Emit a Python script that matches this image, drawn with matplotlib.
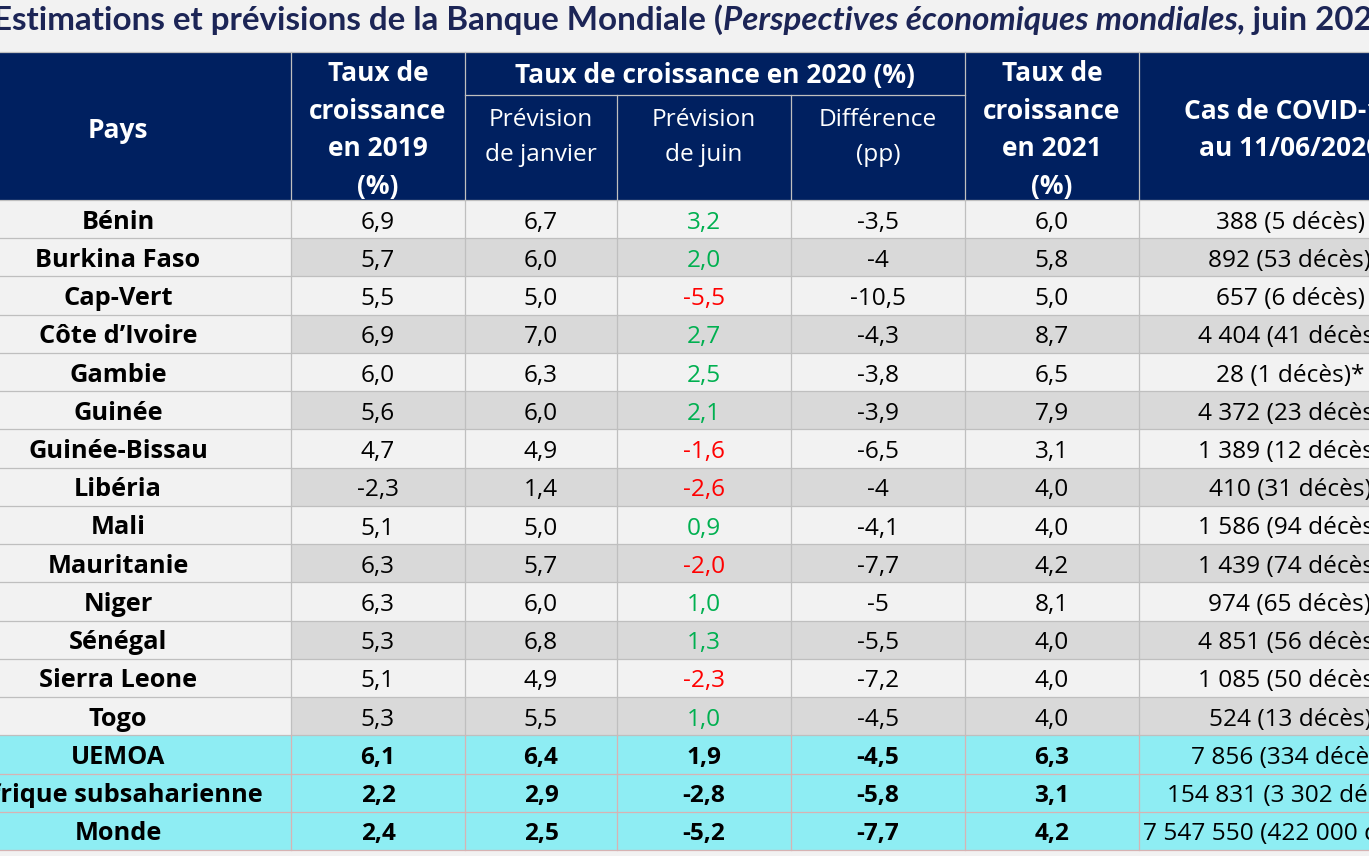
import matplotlib
matplotlib.use("Agg")
import matplotlib.pyplot as plt
from matplotlib.patches import Rectangle

# ---------------- data ----------------
countries = ["Bénin", "Burkina Faso", "Cap-Vert", "Côte d’Ivoire", "Gambie", "Guinée",
             "Guinée-Bissau", "Libéria", "Mali", "Mauritanie", "Niger", "Sénégal",
             "Sierra Leone", "Togo", "UEMOA", "Afrique subsaharienne", "Monde"]
growth_2019 = [6.9, 5.7, 5.5, 6.9, 6.0, 5.6, 4.7, -2.3, 5.1, 6.3, 6.3, 5.3, 5.1, 5.3, 6.1, 2.2, 2.4]
forecast_jan_2020 = [6.7, 6.0, 5.0, 7.0, 6.3, 6.0, 4.9, 1.4, 5.0, 5.7, 6.0, 6.8, 4.9, 5.5, 6.4, 2.9, 2.5]
forecast_jun_2020 = [3.2, 2.0, -5.5, 2.7, 2.5, 2.1, -1.6, -2.6, 0.9, -2.0, 1.0, 1.3, -2.3, 1.0, 1.9, -2.8, -5.2]
difference_pp = [-3.5, -4, -10.5, -4.3, -3.8, -3.9, -6.5, -4, -4.1, -7.7, -5, -5.5, -7.2, -4.5, -4.5, -5.8, -7.7]
growth_2021 = [6.0, 5.8, 5.0, 8.7, 6.5, 7.9, 3.1, 4.0, 4.0, 4.2, 8.1, 4.0, 4.0, 4.0, 6.3, 3.1, 4.2]
covid_cases = ["388 (5 décès)", "892 (53 décès)", "657 (6 décès)", "4 404 (41 décès)",
               "28 (1 décès)*", "4 372 (23 décès)", "1 389 (12 décès)", "410 (31 décès)",
               "1 586 (94 décès)", "1 439 (74 décès)", "974 (65 décès)", "4 851 (56 décès)",
               "1 085 (50 décès)", "524 (13 décès)", "7 856 (334 décès)",
               "154 831 (3 302 décès)", "7 547 550 (422 000 décès)"]
n_summary = 3  # last rows: UEMOA, Afrique subsaharienne, Monde

title_parts = ["Estimations et prévisions de la Banque Mondiale (",
               "Perspectives économiques mondiales",
               ", juin 2020)"]
header_pays = "Pays"
header_2019 = "Taux de\ncroissance\nen 2019\n(%)"
header_2020 = "Taux de croissance en 2020 (%)"
sub_headers = ["Prévision\nde janvier", "Prévision\nde juin", "Différence\n(pp)"]
header_2021 = "Taux de\ncroissance\nen 2021\n(%)"
header_covid = "Cas de COVID-19\nau 11/06/2020"

# ---------------- style / layout ----------------
W, H = 1369, 856
BG = "#f2f2f2"
NAVY = "#002060"
GREY = "#d9d9d9"
CYAN = "#8eedf3"
LINE = "#bfbfbf"
PINK = "#d7b3b3"
GREEN = "#00b050"
RED = "#ff0000"
TITLE_C = "#1c2556"
FONT = "Open Sans"
FS = 17.6        # regular body text
FS_B = 18.3      # bold body text (country names)
FS_H = 19.0      # bold header text

col_edges = [-55, 291, 465, 617, 791, 965, 1139, 1441]
head_top, head_mid, head_bot = 52, 95, 200
body_bot = 850
nrows = len(countries)
rh = (body_bot - head_bot) / nrows

fig = plt.figure(figsize=(W / 100, H / 100), dpi=100, facecolor=BG)
ax = fig.add_axes([0, 0, 1, 1])
ax.set_xlim(0, W)
ax.set_ylim(H, 0)
ax.axis("off")
ax.set_facecolor(BG)

lw = 0.9

# ---- title ----
renderer = fig.canvas.get_renderer()
styles = ["normal", "italic", "normal"]
tfs = 23.9
texts = []
for part, st in zip(title_parts, styles):
    t = ax.text(0, 20, part, fontsize=tfs, fontweight="bold", style=st, family="Lato",
                color=TITLE_C, ha="left", va="center")
    texts.append(t)
widths = [t.get_window_extent(renderer).width for t in texts]
total = sum(widths)
x = 697 - total / 2
for t, w in zip(texts, widths):
    t.set_x(x)
    x += w

# ---- header ----
ax.add_patch(Rectangle((col_edges[0], head_top), col_edges[-1] - col_edges[0],
                       head_bot - head_top, facecolor=NAVY, edgecolor="none"))
ax.plot([col_edges[0], col_edges[-1]], [head_top, head_top], color=LINE, lw=lw)
for xe in col_edges[1:-1]:
    if xe in (617, 791):
        ax.plot([xe, xe], [head_mid, head_bot], color=LINE, lw=lw)
    else:
        ax.plot([xe, xe], [head_top, head_bot], color=LINE, lw=lw)
ax.plot([col_edges[2], col_edges[5]], [head_mid, head_mid], color=LINE, lw=lw)

centers = [(a + b) / 2 for a, b in zip(col_edges[:-1], col_edges[1:])]
hkw = dict(color="white", family=FONT, ha="center", va="center")
ax.text(centers[0], 130, header_pays, fontweight="bold", fontsize=FS_H, linespacing=1.51, **hkw)
ax.text(centers[1], 130, header_2019, fontweight="bold", fontsize=FS_H, linespacing=1.51, **hkw)
ax.text((col_edges[2] + col_edges[5]) / 2, 75.5, header_2020, fontweight="bold",
        fontsize=FS_H, **hkw)
for c, s in zip(centers[2:5], sub_headers):
    ax.text(c, 137.5, s, fontweight="normal", fontsize=FS, linespacing=1.64, **hkw)
ax.text(centers[5], 130, header_2021, fontweight="bold", fontsize=FS_H, linespacing=1.51, **hkw)
ax.text(centers[6], 130, header_covid, fontweight="bold", fontsize=FS_H, linespacing=1.51,
        clip_on=True, **hkw)

# ---- body ----
def fmt1(v):
    return f"{v:.1f}".replace(".", ",")

def fmtg(v):
    return f"{v:g}".replace(".", ",")

for i in range(nrows):
    y0 = head_bot + i * rh
    summary = i >= nrows - n_summary
    for j in range(len(col_edges) - 1):
        x0, x1 = col_edges[j], col_edges[j + 1]
        if summary:
            fc = CYAN
        elif j == 0 or i % 2 == 0:
            fc = BG
        else:
            fc = GREY
        ax.add_patch(Rectangle((x0, y0), x1 - x0, rh, facecolor=fc, edgecolor="none"))
    yb = y0 + rh / 2 + 9.5
    wt = "bold" if summary else "normal"
    kw = dict(family=FONT, ha="center", va="baseline", clip_on=True)
    ax.text(centers[0], yb, countries[i], fontweight="bold", fontsize=FS_B, color="black", **kw)
    ax.text(centers[1], yb, fmt1(growth_2019[i]), fontweight=wt, fontsize=FS, color="black", **kw)
    ax.text(centers[2], yb, fmt1(forecast_jan_2020[i]), fontweight=wt, fontsize=FS,
            color="black", **kw)
    v = forecast_jun_2020[i]
    jc = "black" if summary else (GREEN if v >= 0 else RED)
    ax.text(centers[3], yb, fmt1(v), fontweight=wt, fontsize=FS, color=jc, **kw)
    ax.text(centers[4], yb, fmtg(difference_pp[i]), fontweight=wt, fontsize=FS,
            color="black", **kw)
    ax.text(centers[5], yb, fmt1(growth_2021[i]), fontweight=wt, fontsize=FS, color="black", **kw)
    ax.text(centers[6], yb, covid_cases[i], fontweight="normal", fontsize=FS, color="black", **kw)

# grid lines
for i in range(nrows + 1):
    y = head_bot + i * rh
    c = PINK if i > nrows - n_summary else LINE
    ax.plot([col_edges[0], col_edges[-1]], [y, y], color=c, lw=lw)
for i in range(nrows):
    y0 = head_bot + i * rh
    c = PINK if i >= nrows - n_summary else LINE
    for xe in col_edges[1:-1]:
        ax.plot([xe, xe], [y0, y0 + rh], color=c, lw=lw)

fig.savefig("out.png", dpi=100, facecolor=BG)
